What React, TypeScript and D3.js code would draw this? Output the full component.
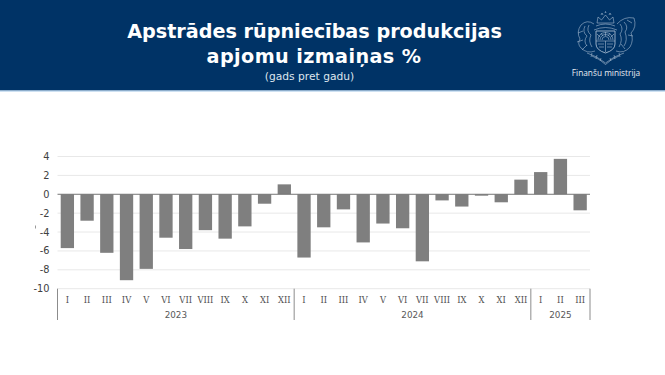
import React from "react";
import * as d3 from "d3";

const months2023 = ["I","II","III","IV","V","VI","VII","VIII","IX","X","XI","XII"];
const months2024 = ["I","II","III","IV","V","VI","VII","VIII","IX","X","XI","XII"];
const months2025 = ["I","II","III"];
const values2023 = [-5.7,-2.8,-6.2,-9.1,-7.9,-4.6,-5.8,-3.8,-4.7,-3.4,-1.0,1.05];
const values2024 = [-6.7,-3.5,-1.6,-5.1,-3.1,-3.6,-7.1,-0.65,-1.3,-0.15,-0.85,1.55];
const values2025 = [2.35,3.75,-1.7];
const years = ["2023","2024","2025"];
const yTicks = [4,2,0,-2,-4,-6,-8,-10];

const groups = [
  { year: years[0], months: months2023, values: values2023 },
  { year: years[1], months: months2024, values: values2024 },
  { year: years[2], months: months2025, values: values2025 },
];
const rows = groups.flatMap((g) =>
  g.months.map((m, i) => ({ key: `${g.year}-${m}`, month: m, value: g.values[i] }))
);

const font = "'DejaVu Sans', Verdana, sans-serif";

function Logo() {
  const c = "#c3d1e2";
  return (
    <g fill="none" stroke={c} strokeWidth={0.6} opacity={0.85}>
      <path d="M596 31 L596 44 Q596 50 605.5 53 Q615 50 615 44 L615 31 Z" strokeWidth={0.9} />
      <path d="M598 40 A7.5 7.5 0 0 1 613 40 M600 40 A5.5 5.5 0 0 1 611 40 M602 40 A3.5 3.5 0 0 1 609 40" />
      <path d="M597 34 L600 37 M614 34 L611 37 M605.5 32 V36 M601 33 L603 36 M610 33 L608 36" />
      <path d="M596 41 H615 M605.5 41 V52 M598 44 H604 M607 44 H613 M599 47 H604 M607 47 H612" />
      <path d="M597 23 L598 17 L601.5 20 L605.5 15 L609.5 20 L613 17 L614 23 Z" />
      <path d="M601 15 l1 -2 l1 2 M609 15 l1 -2 l1 2 M605 13 l0.5 -1.5 l0.5 1.5" />
      <path d="M596 26 Q605.5 22 615 26 M594 30 Q605.5 25 617 30" />
      <path d="M594 24 Q587 19 581 25 Q576 32 580 39 Q577 44 581 48 Q587 54 595 51" />
      <path d="M585 26 Q582 32 587 36 Q583 41 587 46 M589 25 Q586 31 591 35 Q588 41 592 47 M578 33 L583 31 M577 42 L583 40 M582 50 L587 45" />
      <path d="M617 24 Q624 16 634 18 Q637 27 631 33 Q634 40 630 47 Q624 54 616 51" />
      <path d="M624 22 Q629 27 625 32 Q628 40 624 46 M620 24 Q624 29 620 34 Q623 40 619 47 M627 20 L632 23 M628 35 L633 36 M625 49 L621 44" />
      <path d="M587 53 Q597 56 605.5 63 Q614 56 624 53 M592 56 Q600 59 605.5 64.5 Q611 59 619 56" />
      <path d="M592 53 l-1 4 M597 55 l-1 4 M601 58 l-1 3 M619 53 l1 4 M614 55 l1 4 M610 58 l1 3" />
    </g>
  );
}

export default function App() {
  const x = d3.scaleBand<string>().domain(rows.map((r) => r.key)).range([57.5, 590]).paddingInner(0.325).paddingOuter(0.1625);
  const y = d3.scaleLinear().domain([-10, 4]).range([288.7, 156.5]);
  const step = x.step();
  const left = x.range()[0];
  const right = x.range()[1];

  let offset = 0;
  const spans = groups.map((g) => {
    const x0 = left + offset * step;
    offset += g.months.length;
    return { year: g.year, x0, x1: left + offset * step };
  });
  const dividers = [spans[0].x0, ...spans.map((s) => s.x1)];

  return (
    <svg width={665} height={375} style={{ position: "absolute", left: 0, top: 0, background: "#fff" }}>
      <rect x={0} y={0} width={665} height={90.5} fill="#003366" />
      <rect x={0} y={90.5} width={665} height={1} fill="#9dc3e6" />
      <text x={314.5} y={37.8} textAnchor="middle" fontFamily={font} fontWeight={700} fontSize={19.2} fill="#fff">Apstrādes rūpniecības produkcijas</text>
      <text x={314} y={62.8} textAnchor="middle" fontFamily={font} fontWeight={700} fontSize={19.2} letterSpacing={0.4} fill="#fff">apjomu izmaiņas %</text>
      <text x={309.5} y={80} textAnchor="middle" fontFamily={font} fontSize={10.7} fill="#dfe6ee">(gads pret gadu)</text>
      <Logo />
      <text x={606} y={75.5} textAnchor="middle" fontFamily="'Open Sans', sans-serif" fontSize={8.3} fill="#e8edf3">Finanšu ministrija</text>

      {yTicks.map((t) => (
        <g key={t}>
          {t !== 0 && <line x1={left} x2={right} y1={y(t)} y2={y(t)} stroke="#e8e8e8" strokeWidth={1} />}
          <text x={49.5} y={y(t) + 3.5} textAnchor="end" fontFamily={font} fontSize={9.8} fill="#404040">{t}</text>
        </g>
      ))}
      {rows.map((r) => (
        <rect key={r.key} x={x(r.key)} width={x.bandwidth()} y={Math.min(y(r.value), y(0))} height={Math.abs(y(r.value) - y(0))} fill="#7f7f7f" />
      ))}
      <line x1={left} x2={right} y1={y(0)} y2={y(0)} stroke="#767676" strokeWidth={1} />
      {rows.map((r) => (
        <text key={r.key} x={x(r.key)! + x.bandwidth() / 2} y={303} textAnchor="middle" fontFamily="'DejaVu Serif', serif" fontSize={8.4} fill="#505050">{r.month}</text>
      ))}
      {dividers.map((d, i) => (
        <line key={i} x1={d} x2={d} y1={288.7} y2={320} stroke="#8c8c8c" strokeWidth={1} />
      ))}
      {spans.map((s) => (
        <text key={s.year} x={(s.x0 + s.x1) / 2} y={318} textAnchor="middle" fontFamily={font} fontSize={8.8} fill="#595959">{s.year}</text>
      ))}
      <rect x={35} y={225.5} width={1} height={3} fill="#9a9a9a" />
    </svg>
  );
}
